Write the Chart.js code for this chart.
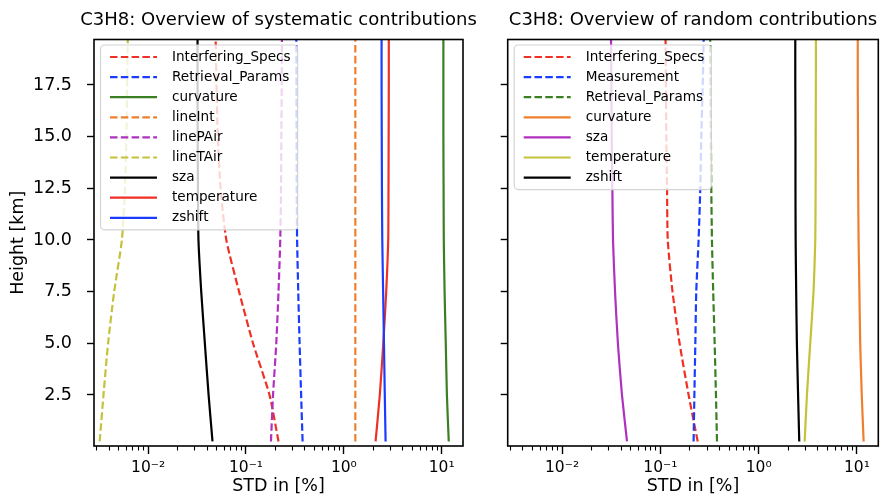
<!DOCTYPE html>
<html>
<head>
<meta charset="utf-8">
<script src="https://cdn.jsdelivr.net/npm/chart.js@4.4.1/dist/chart.umd.min.js"></script>
<style>
  html, body { margin: 0; padding: 0; background: #fff; }
  #wrap { position: relative; width: 880px; height: 497px; }
  .panel { position: absolute; top: 0; }
</style>
</head>
<body>
<div id="wrap">
  <canvas class="panel" id="sysChart" width="482" height="497" style="left:0"></canvas>
  <canvas class="panel" id="rndChart" width="408" height="497" style="left:472px"></canvas>
</div>
<script>
// ======================================================
// data - heights in km, STD in %
// ======================================================
const heights = [0.25, 2.5, 5.0, 7.5, 10.0, 12.5, 15.0, 17.5, 19.7];

// systematic contributions
const sysLabels = ['Interfering_Specs', 'Retrieval_Params', 'curvature', 'lineInt', 'linePAir', 'lineTAir', 'sza', 'temperature', 'zshift'];
const sysDashed = [true, true, false, true, true, true, false, false, false];
const sysInterferingSpecs = [0.215, 0.174, 0.118, 0.085, 0.063, 0.055, 0.0515, 0.050, 0.049];
const sysRetrievalParams = [0.379, 0.366, 0.353, 0.342, 0.333, 0.330, 0.329, 0.328, 0.327];
const sysCurvature = [11.8, 11.3, 11.0, 10.7, 10.5, 10.45, 10.4, 10.4, 10.4];
const sysLineInt = [1.31, 1.31, 1.31, 1.31, 1.31, 1.31, 1.31, 1.31, 1.31];
const sysLinePAir = [0.180, 0.189, 0.204, 0.215, 0.224, 0.228, 0.230, 0.232, 0.233];
const sysLineTAir = [0.0032, 0.0035, 0.0039, 0.0045, 0.0054, 0.0058, 0.0060, 0.0061, 0.0062];
const sysSza = [0.0455, 0.0415, 0.038, 0.0349, 0.0327, 0.0323, 0.0321, 0.0320, 0.0320];
const sysTemperature = [2.11, 2.33, 2.53, 2.71, 2.84, 2.86, 2.87, 2.88, 2.88];
const sysZshift = [2.67, 2.62, 2.57, 2.52, 2.47, 2.45, 2.44, 2.43, 2.43];

// random contributions
const rndLabels = ['Interfering_Specs', 'Measurement', 'Retrieval_Params', 'curvature', 'sza', 'temperature', 'zshift'];
const rndDashed = [true, true, true, false, false, false, false];
const rndInterferingSpecs = [0.240, 0.194, 0.157, 0.133, 0.119, 0.117, 0.115, 0.114, 0.113];
const rndMeasurement = [0.218, 0.222, 0.227, 0.232, 0.245, 0.255, 0.261, 0.270, 0.276];
const rndRetrievalParams = [0.377, 0.368, 0.357, 0.345, 0.335, 0.330, 0.327, 0.324, 0.322];
const rndCurvature = [11.7, 11.2, 10.8, 10.6, 10.4, 10.3, 10.25, 10.2, 10.2];
const rndSza = [0.0458, 0.0407, 0.037, 0.0346, 0.033, 0.0325, 0.032, 0.0318, 0.0315];
const rndTemperature = [2.94, 3.10, 3.35, 3.62, 3.77, 3.80, 3.81, 3.82, 3.83];
const rndZshift = [2.59, 2.52, 2.45, 2.41, 2.38, 2.37, 2.37, 2.36, 2.36];

// axes
const xTickValues = [0.01, 0.1, 1, 10];
const xTickLabels = ['10\u207B\u00B2', '10\u207B\u00B9', '10\u2070', '10\u00B9'];
const yTickValues = [2.5, 5.0, 7.5, 10.0, 12.5, 15.0, 17.5];

const palette = ['#ee3124', '#1a3cff', '#3a7f22', '#ee7f2d', '#b030c0', '#c4c23a', '#000000'];
const FONT = 'DejaVu Sans';

Chart.defaults.font.family = FONT;
Chart.defaults.color = '#000';

// ======================================================
// plugins: title over the plot box, frame, legend box
// ======================================================
const panelTitlePlugin = {
  id: 'panelTitle',
  afterDraw(chart, args, opts) {
    const { ctx, chartArea: a } = chart;
    ctx.save();
    ctx.font = '18px "' + FONT + '"';
    ctx.fillStyle = '#000';
    ctx.textAlign = 'center';
    ctx.textBaseline = 'middle';
    ctx.fillText(opts.text, (a.left + a.right) / 2, 20);
    ctx.restore();
  }
};

const framePlugin = {
  id: 'frame',
  afterDatasetsDraw(chart) {
    const { ctx, chartArea: a } = chart;
    ctx.save();
    ctx.strokeStyle = '#000';
    ctx.lineWidth = 1.6;
    ctx.strokeRect(a.left, a.top, a.right - a.left, a.bottom - a.top);
    ctx.restore();
  }
};

const legendPlugin = {
  id: 'boxLegend',
  afterDraw(chart) {
    const { ctx, chartArea: a } = chart;
    const sets = chart.data.datasets;
    ctx.save();
    ctx.font = '13.6px "' + FONT + '"';
    const textW = Math.max(...sets.map(d => ctx.measureText(d.label).width));
    const x0 = a.left + 6.5, y0 = a.top + 5.5;
    const w = 71.5 + textW + 7;
    const h = (sets.length - 1) * 20.1 + 24;
    ctx.beginPath();
    ctx.roundRect(x0, y0, w, h, 4);
    ctx.fillStyle = 'rgba(255,255,255,0.8)';
    ctx.fill();
    ctx.strokeStyle = '#d4d4d4';
    ctx.lineWidth = 1.2;
    ctx.stroke();
    sets.forEach((d, i) => {
      const y = a.top + 17.5 + i * 20.1;
      ctx.beginPath();
      ctx.setLineDash(d.borderDash || []);
      ctx.strokeStyle = d.borderColor;
      ctx.lineWidth = d.borderWidth;
      ctx.moveTo(a.left + 16, y);
      ctx.lineTo(a.left + 63, y);
      ctx.stroke();
      ctx.setLineDash([]);
      ctx.fillStyle = '#000';
      ctx.textBaseline = 'middle';
      ctx.fillText(d.label, a.left + 78, y);
    });
    ctx.restore();
  }
};

function isDecade(v) {
  const e = Math.log10(v);
  return Math.abs(e - Math.round(e)) < 1e-9;
}

// ======================================================
// one panel
// ======================================================
function renderPanel(canvasId, title, labels, dashed, series, yAxisWidth, padRight, showYLabels) {
  const ctx = document.getElementById(canvasId).getContext('2d');
  const datasets = labels.map((label, i) => ({
    label,
    data: heights.map((h, k) => ({ x: series[i][k], y: h })),
    showLine: true,
    borderColor: palette[i % palette.length],
    backgroundColor: palette[i % palette.length],
    borderWidth: 2.2,
    borderDash: dashed[i] ? [7.5, 3.3] : [],
    pointRadius: 0,
    tension: 0.2,
    order: -i
  }));

  return new Chart(ctx, {
    type: 'scatter',
    data: { datasets },
    options: {
      responsive: false,
      animation: false,
      events: [],
      layout: { padding: { left: 0, right: padRight, top: 39.5, bottom: 0 } },
      plugins: {
        legend: { display: false },
        tooltip: { enabled: false },
        title: { display: false },
        panelTitle: { text: title }
      },
      scales: {
        x: {
          type: 'logarithmic',
          min: 0.0028,
          max: 16.5,
          afterBuildTicks: scale => {
            const ticks = [];
            for (let e = -3; e <= 1; e++) {
              for (let m = 1; m <= 9; m++) {
                const v = m * Math.pow(10, e);
                if (v >= scale.min && v <= scale.max) ticks.push({ value: v, major: m === 1 });
              }
            }
            scale.ticks = ticks;
          },
          afterFit: scale => { scale.height = 51; },
          border: { display: false },
          grid: {
            drawOnChartArea: false,
            tickLength: 8,
            tickColor: '#000',
            tickWidth: c => (c.tick && isDecade(c.tick.value) ? 1.4 : 1.1),
            tickBorderDash: c => (c.tick && isDecade(c.tick.value) ? [] : [4.5, 20])
          },
          ticks: {
            autoSkip: false,
            maxRotation: 0,
            padding: 5,
            color: '#000',
            font: { size: 15.5 },
            callback: v => {
              const idx = xTickValues.findIndex(t => Math.abs(t - v) < 1e-9);
              return idx >= 0 ? xTickLabels[idx] : '';
            }
          },
          title: {
            display: true,
            text: 'STD in [%]',
            color: '#000',
            font: { size: 17.5 },
            padding: { top: 0, bottom: 0 }
          }
        },
        y: {
          type: 'linear',
          min: 0.03,
          max: 19.7,
          afterBuildTicks: scale => { scale.ticks = yTickValues.map(v => ({ value: v })); },
          afterFit: scale => { scale.width = yAxisWidth; },
          border: { display: false },
          grid: {
            drawOnChartArea: false,
            tickLength: 7,
            tickColor: '#000',
            tickWidth: 1.4
          },
          ticks: {
            padding: 15,
            color: '#000',
            font: { size: 17.5 },
            callback: v => (showYLabels ? Number(v).toFixed(1) : '')
          },
          title: {
            display: showYLabels,
            text: 'Height [km]',
            color: '#000',
            font: { size: 17.5 },
            padding: { top: 7.5, bottom: 0 }
          }
        }
      }
    },
    plugins: [framePlugin, legendPlugin, panelTitlePlugin]
  });
}

renderPanel('sysChart', 'C3H8: Overview of systematic contributions', sysLabels, sysDashed,
  [sysInterferingSpecs, sysRetrievalParams, sysCurvature, sysLineInt, sysLinePAir, sysLineTAir, sysSza, sysTemperature, sysZshift],
  94, 19, true);

renderPanel('rndChart', 'C3H8: Overview of random contributions', rndLabels, rndDashed,
  [rndInterferingSpecs, rndMeasurement, rndRetrievalParams, rndCurvature, rndSza, rndTemperature, rndZshift],
  35.7, 1.7, false);
</script>
</body>
</html>
